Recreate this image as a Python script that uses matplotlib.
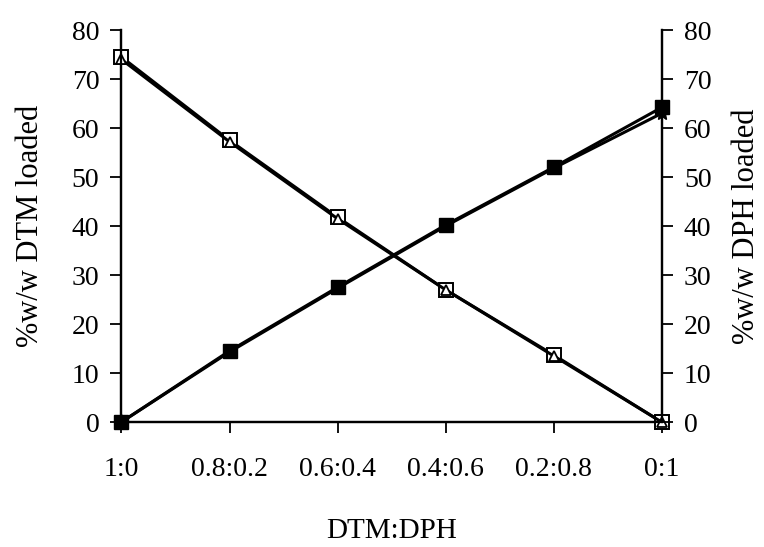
import matplotlib
matplotlib.use("Agg")
import matplotlib.pyplot as plt

plt.rcParams["font.family"] = ["Liberation Serif", "DejaVu Serif"]

ratios = ["1:0", "0.8:0.2", "0.6:0.4", "0.4:0.6", "0.2:0.8", "0:1"]
x_pos = [0.0, 0.2, 0.4, 0.6, 0.8, 1.0]

# DTM loaded (left axis), two replicates
dtm_sq = [74.5, 57.5, 41.8, 27.0, 13.7, 0.0]
dtm_tri = [74.0, 57.2, 41.5, 27.0, 13.5, 0.0]

# DPH loaded (right axis), two replicates
dph_sq = [0.0, 14.5, 27.5, 40.2, 52.0, 64.2]
dph_star = [0.0, 14.3, 27.3, 40.0, 51.8, 63.0]

fig = plt.figure(figsize=(7.64, 5.47), dpi=100)
ax = fig.add_axes([0.159, 0.2285, 0.707, 0.7165])
ax2 = ax.twinx()

ax.plot(x_pos, dtm_sq, color="black", lw=2.2, marker="s", ms=10.5,
        mfc="white", mec="black", mew=1.4, clip_on=False, zorder=3)
ax.plot(x_pos, dtm_tri, color="black", lw=2.2, marker="^", ms=7,
        mfc="white", mec="black", mew=1.3, clip_on=False, zorder=4)
ax2.plot(x_pos, dph_sq, color="black", lw=2.2, marker="s", ms=10.5,
         mfc="black", mec="black", clip_on=False, zorder=3)
ax2.plot(x_pos, dph_star, color="black", lw=2.2, marker="*", ms=11,
         mfc="black", mec="black", clip_on=False, zorder=4)

for a in (ax, ax2):
    a.set_ylim(0, 80)
    a.set_yticks(range(0, 81, 10))
    a.spines["top"].set_visible(False)
    a.tick_params(axis="both", direction="out", length=8, width=1.3,
                  labelsize=20, colors="black", pad=8)
    for s in a.spines.values():
        s.set_linewidth(1.6)

ax.set_xlim(0, 1)
ax.set_xticks(x_pos)
ax.set_xticklabels(ratios)
ax.tick_params(axis="x", pad=17)
ax.set_xlabel("DTM:DPH", fontsize=21, labelpad=26)
ax.set_ylabel("%w/w DTM loaded", fontsize=22, labelpad=19)
ax2.set_ylabel("%w/w DPH loaded", fontsize=22, labelpad=15)

fig.savefig("out.png", dpi=100)
